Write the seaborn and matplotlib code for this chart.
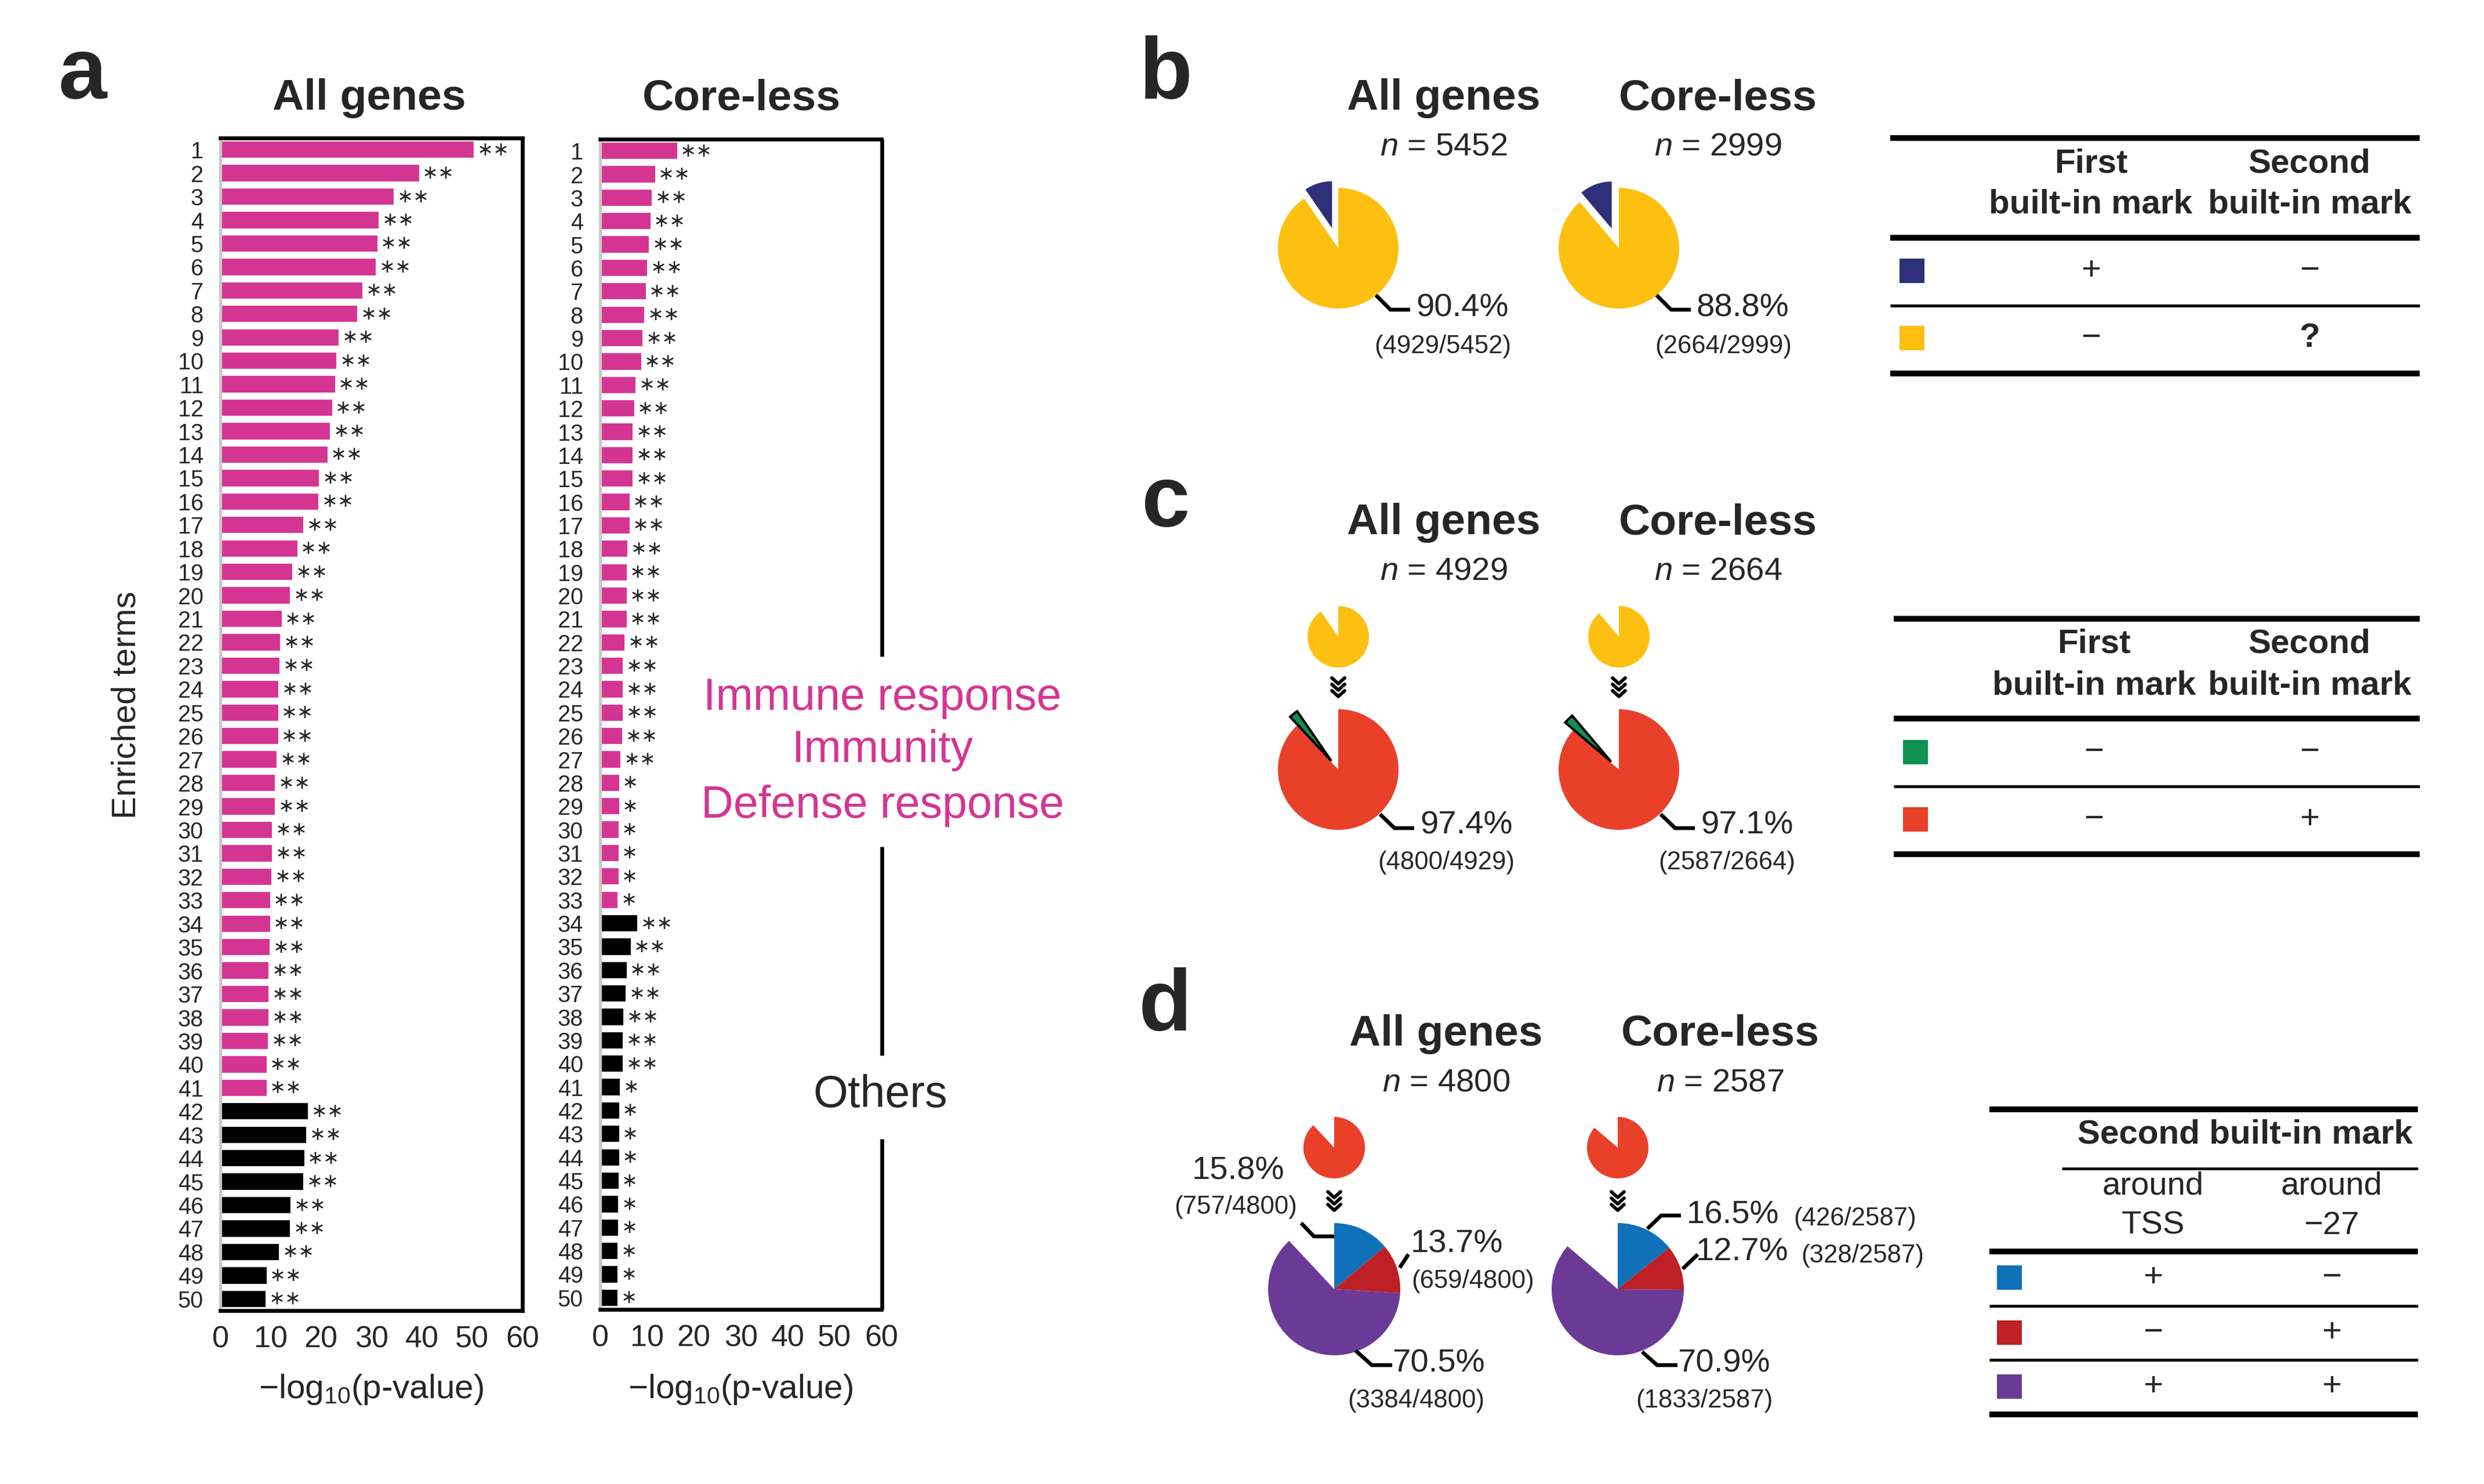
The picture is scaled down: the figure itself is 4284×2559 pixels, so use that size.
import numpy as np
import pandas as pd
import matplotlib
matplotlib.use("Agg")
import matplotlib.pyplot as plt
from matplotlib.patches import Rectangle
import seaborn as sns

W, H = 4284, 2559
DPI = 300

# ---------------- panel a: enriched terms ----------------
terms = [str(i) for i in range(1, 51)]
all_genes_logp = [50.6, 39.7, 34.7, 31.7, 31.4, 31.1, 28.5, 27.4, 23.7, 23.3,
                  23.0, 22.4, 22.0, 21.5, 19.8, 19.7, 16.7, 15.5, 14.5, 14.1,
                  12.4, 12.1, 12.0, 11.8, 11.7, 11.7, 11.4, 11.1, 11.1, 10.5,
                  10.5, 10.4, 10.1, 10.1, 10.0, 9.8, 9.8, 9.8, 9.7, 9.4,
                  9.4, 17.6, 17.3, 16.9, 16.7, 14.2, 14.1, 11.9, 9.4, 9.2]
all_genes_group = ["immune"] * 41 + ["other"] * 9
all_genes_stars = ["**"] * 50

core_less_logp = [16.7, 12.0, 11.3, 11.0, 10.7, 10.3, 10.0, 9.7, 9.3, 9.0,
                  7.8, 7.5, 7.2, 7.2, 7.2, 6.5, 6.5, 6.1, 5.9, 5.9,
                  5.9, 5.5, 5.1, 5.1, 5.1, 5.0, 4.6, 4.3, 4.3, 4.2,
                  4.2, 4.2, 4.0, 8.2, 6.8, 5.9, 5.7, 5.2, 5.1, 5.1,
                  4.5, 4.3, 4.3, 4.3, 4.2, 4.1, 4.1, 4.0, 4.0, 4.0]
core_less_group = ["immune"] * 33 + ["other"] * 17
core_less_stars = ["**"] * 27 + ["*"] * 6 + ["**"] * 7 + ["*"] * 10

# ---------------- panels b-d: gene counts ----------------
n_all = [5452, 4929, 4800]
n_core = [2999, 2664, 2587]
b_all_counts = [4929, 523]          # yellow, navy
b_core_counts = [2664, 335]
c_all_counts = [4800, 129]          # red, green
c_core_counts = [2587, 77]
d_all_counts = [757, 659, 3384]     # blue, dark red, purple
d_core_counts = [426, 328, 1833]

b_table = [("+", "−"), ("−", "?")]
c_table = [("−", "−"), ("−", "+")]
d_table = [("+", "−"), ("−", "+"), ("+", "+")]

MAGENTA = "#d53592"
NAVY = "#2e3179"
YELLOW = "#fec010"
RED = "#e9402a"
GREEN = "#0e9151"
BLUE = "#1071b9"
DRED = "#be2026"
PURPLE = "#6b3a96"

sns.set_theme(style="white")
plt.rcParams["font.family"] = ["Liberation Sans", "DejaVu Sans"]
plt.rcParams["mathtext.fontset"] = "custom"
plt.rcParams["mathtext.rm"] = "Liberation Sans"
plt.rcParams["mathtext.it"] = "Liberation Sans:italic"
plt.rcParams["mathtext.bf"] = "Liberation Sans:bold"
plt.rcParams["mathtext.default"] = "regular"

fig = plt.figure(figsize=(W / DPI, H / DPI), dpi=DPI)


def px_axes(x0, y0, x1, y1):
    return fig.add_axes([x0 / W, 1 - y1 / H, (x1 - x0) / W, (y1 - y0) / H])


def bar_panel(ax, vals, groups, stars, right_spine=True):
    df = pd.DataFrame({"term": terms, "logp": vals, "group": groups})
    sns.barplot(data=df, x="logp", y="term", hue="group",
                palette={"immune": MAGENTA, "other": "black"},
                dodge=False, legend=False, width=0.8, saturation=1, ax=ax)
    for i, (v, s) in enumerate(zip(vals, stars)):
        ax.text(v + 0.4, i, s.replace("*", "∗"), va="center", ha="left",
                fontsize=8, family=["DejaVu Sans"])
    ax.set_xlim(0, 60)
    ax.set_xticks(range(0, 61, 10))
    ax.set_xlabel("")
    ax.set_ylabel("")
    ax.tick_params(axis="both", length=0)
    ax.tick_params(axis="x", labelsize=12.5, pad=6)
    ax.tick_params(axis="y", labelsize=9.5, pad=7)
    ax.spines["left"].set_color("#c8c8c8")
    ax.spines["left"].set_linewidth(1.2)
    for sp in ["top", "bottom", "right"]:
        ax.spines[sp].set_color("black")
        ax.spines[sp].set_linewidth(1.6)
    ax.spines["right"].set_visible(right_spine)


ax_all = px_axes(380, 238, 901, 2260)
bar_panel(ax_all, all_genes_logp, all_genes_group, all_genes_stars)
ax_core = px_axes(1035, 240, 1520, 2258)
bar_panel(ax_core, core_less_logp, core_less_group, core_less_stars, right_spine=False)

# overlay in pixel coordinates (y up)
ov = fig.add_axes([0, 0, 1, 1])
ov.set_axis_off()


def T(x, y, s, size, ha="center", va="center", **kw):
    ov.text(x, H - y, s, fontsize=size, ha=ha, va=va, **kw)


def L(pts, lw=1.6, **kw):
    xs = [p[0] for p in pts]
    ys = [H - p[1] for p in pts]
    ov.plot(xs, ys, color="black", lw=lw, solid_capstyle="butt",
            solid_joinstyle="miter", **kw)


# panel a texts
T(142, 131, "a", 36, weight="bold")
T(637, 170, "All genes", 18, weight="bold")
T(1279, 170, "Core-less", 18, weight="bold")
T(219, 1216, "Enriched terms", 14, rotation=90)
T(640, 2396, "−log$_{10}$(p-value)", 14)
T(1277, 2396, "−log$_{10}$(p-value)", 14)
T(1522, 1203, "Immune response", 18.5, color=MAGENTA)
T(1522, 1293, "Immunity", 18.5, color=MAGENTA)
T(1522, 1390, "Defense response", 18.5, color=MAGENTA)
T(1518, 1888, "Others", 18.5)
for y0, y1 in [(240, 1132), (1460, 1820), (1964, 2258)]:
    L([(1521, y0), (1521, y1)], lw=1.6)


def draw_pie(counts, base, colors, cx, cy, r, explode=None, edge=None,
             shrink=None):
    vals = list(counts) + [base - sum(counts)]
    cols = list(colors) + ["none"]
    ex = (list(explode) + [0]) if explode else [0] * len(vals)
    wedges, _ = ov.pie(vals, colors=cols, startangle=90, counterclock=False,
                       center=(cx, H - cy), radius=r, explode=ex, frame=True,
                       wedgeprops=dict(linewidth=0))
    if edge is not None:
        wedges[edge].set_edgecolor("black")
        wedges[edge].set_linewidth(1.0)
    if shrink is not None:
        idx, f = shrink
        wedges[idx].set_radius(r * f)
    return wedges


def chevrons(cx, cy):
    for k in range(3):
        yy = H - cy + 12 - k * 11
        ov.plot([cx - 11, cx, cx + 11], [yy + 5, yy - 5, yy + 5],
                color="black", lw=1.4)


def pct(a, b):
    return f"{100 * a / b:.1f}%"


cols_x = [2490, 2963]
pie_x = [2308, 2792]

# ---------------- panel b ----------------
T(2010, 131, "b", 36, weight="bold")
for k, (name, n, cnt) in enumerate([("All genes", n_all[0], b_all_counts),
                                    ("Core-less", n_core[0], b_core_counts)]):
    T(cols_x[k], 170, name, 18, weight="bold")
    T(cols_x[k], 254, f"$\\it{{n}}$ = {n}", 13.5)
    draw_pie(cnt, n, [YELLOW, NAVY], pie_x[k], 428, 104, explode=[0, 36],
             shrink=(1, 0.78))
    dx = pie_x[k] - 2308
    L([(2373 + dx, 509), (2398 + dx, 534), (2432 + dx, 534)])
    T(2442 + dx, 532, pct(cnt[0], n), 13.5, ha="left")
    T(2488 + dx, 598, f"({cnt[0]}/{n})", 10.5)

# ---------------- panel c ----------------
T(2010, 869, "c", 36, weight="bold")
for k, (name, ns, cnt_b, cnt) in enumerate(
        [("All genes", n_all, b_all_counts, c_all_counts),
         ("Core-less", n_core, b_core_counts, c_core_counts)]):
    T(cols_x[k], 902, name, 18, weight="bold")
    T(cols_x[k], 986, f"$\\it{{n}}$ = {ns[1]}", 13.5)
    draw_pie(cnt_b[:1], ns[0], [YELLOW], pie_x[k], 1098, 53)
    chevrons(pie_x[k], 1186)
    draw_pie(cnt, ns[0], [RED, GREEN], pie_x[k], 1327, 104,
             explode=[0, 19], edge=1)
    dx = pie_x[k] - 2308
    L([(2380 + dx, 1404), (2405 + dx, 1428), (2439 + dx, 1428)])
    T(2449 + dx, 1424, pct(cnt[0], ns[1]), 13.5, ha="left")
    T(2494 + dx, 1488, f"({cnt[0]}/{ns[1]})", 10.5)

# ---------------- panel d ----------------
T(2010, 1738, "d", 36, weight="bold")
for k, (name, ns, cnt_c, cnt) in enumerate(
        [("All genes", n_all, c_all_counts, d_all_counts),
         ("Core-less", n_core, c_core_counts, d_core_counts)]):
    T(cols_x[k] + 4, 1783, name, 18, weight="bold")
    T(cols_x[k] + 4, 1867, f"$\\it{{n}}$ = {ns[2]}", 13.5)
    px = [2301, 2790][k]
    draw_pie(cnt_c[:1], ns[0], [RED], px, 1979, 53)
    chevrons(px, 2072)
    draw_pie(cnt, ns[0], [BLUE, DRED, PURPLE], px, 2223, 114)

# All genes labels
L([(2244, 2109), (2266, 2132), (2301, 2132)])
T(2135, 2020, pct(d_all_counts[0], n_all[2]), 13.5)
T(2131, 2081, f"({d_all_counts[0]}/{n_all[2]})", 10.5)
L([(2414, 2186), (2429, 2163)])
T(2433, 2145, pct(d_all_counts[1], n_all[2]), 13.5, ha="left")
T(2540, 2209, f"({d_all_counts[1]}/{n_all[2]})", 10.5)
L([(2338, 2329), (2366, 2354), (2401, 2354)])
T(2401, 2352, pct(d_all_counts[2], n_all[2]), 13.5, ha="left")
T(2442, 2415, f"({d_all_counts[2]}/{n_all[2]})", 10.5)
# Core-less labels
L([(2841, 2119), (2865, 2096), (2899, 2096)])
T(2909, 2096, pct(d_core_counts[0], n_core[2]), 13.5, ha="left")
T(3093, 2101, f"({d_core_counts[0]}/{n_core[2]})", 10.5, ha="left")
L([(2902, 2188), (2928, 2163)])
T(2925, 2160, pct(d_core_counts[1], n_core[2]), 13.5, ha="left")
T(3106, 2165, f"({d_core_counts[1]}/{n_core[2]})", 10.5, ha="left")
L([(2832, 2331), (2858, 2354), (2893, 2354)])
T(2893, 2352, pct(d_core_counts[2], n_core[2]), 13.5, ha="left")
T(2939, 2415, f"({d_core_counts[2]}/{n_core[2]})", 10.5)


# ---------------- tables ----------------
def hline(x0, x1, y, lw):
    ov.plot([x0, x1], [H - y, H - y], color="black", lw=lw, solid_capstyle="butt")


def square(x0, yc, color):
    ov.add_patch(Rectangle((x0, H - yc - 21), 43, 42, color=color, lw=0))


def two_col_table(x0, x1, lines, hdr_y, rows_y, colors, rows, colx):
    hline(x0, x1, lines[0], 2.4)
    hline(x0, x1, lines[1], 2.4)
    for y in lines[2:-1]:
        hline(x0, x1, y, 1.2)
    hline(x0, x1, lines[-1], 2.4)
    T(colx[0], hdr_y[0], "First", 14, weight="bold")
    T(colx[1], hdr_y[0], "Second", 14, weight="bold")
    T(colx[0], hdr_y[1], "built-in mark", 14, weight="bold")
    T(colx[1], hdr_y[1], "built-in mark", 14, weight="bold")
    for y, c, (s1, s2) in zip(rows_y, colors, rows):
        square(x0 + 16, y, c)
        T(colx[0], y, s1, 14)
        T(colx[1], y, s2, 14, weight="bold" if s2 == "?" else "normal")


two_col_table(3260, 4173, [238, 410, 527, 644], [282, 352], [467, 583],
              [NAVY, YELLOW], b_table, [3606, 3983])
two_col_table(3266, 4173, [1067, 1239, 1356, 1473], [1110, 1182], [1297, 1413],
              [GREEN, RED], c_table, [3611, 3983])

# table d
hline(3431, 4170, 1913, 2.4)
T(3872, 1956, "Second built-in mark", 14, weight="bold")
hline(3556, 4170, 2015, 1.1)
T(3713, 2045, "around", 13.5)
T(4021, 2045, "around", 13.5)
T(3713, 2114, "TSS", 13.5)
T(4021, 2114, "−27", 13.5)
hline(3431, 4170, 2158, 2.4)
hline(3431, 4170, 2252, 1.2)
hline(3431, 4170, 2345, 1.2)
hline(3431, 4170, 2439, 2.4)
for y, c, (s1, s2) in zip([2203, 2298, 2391], [BLUE, DRED, PURPLE], d_table):
    square(3444, y, c)
    T(3713, y, s1, 14)
    T(4021, y, s2, 14)

ov.set_xlim(0, W)
ov.set_ylim(0, H)
ov.set_axis_off()

fig.savefig("out.png", dpi=DPI)
